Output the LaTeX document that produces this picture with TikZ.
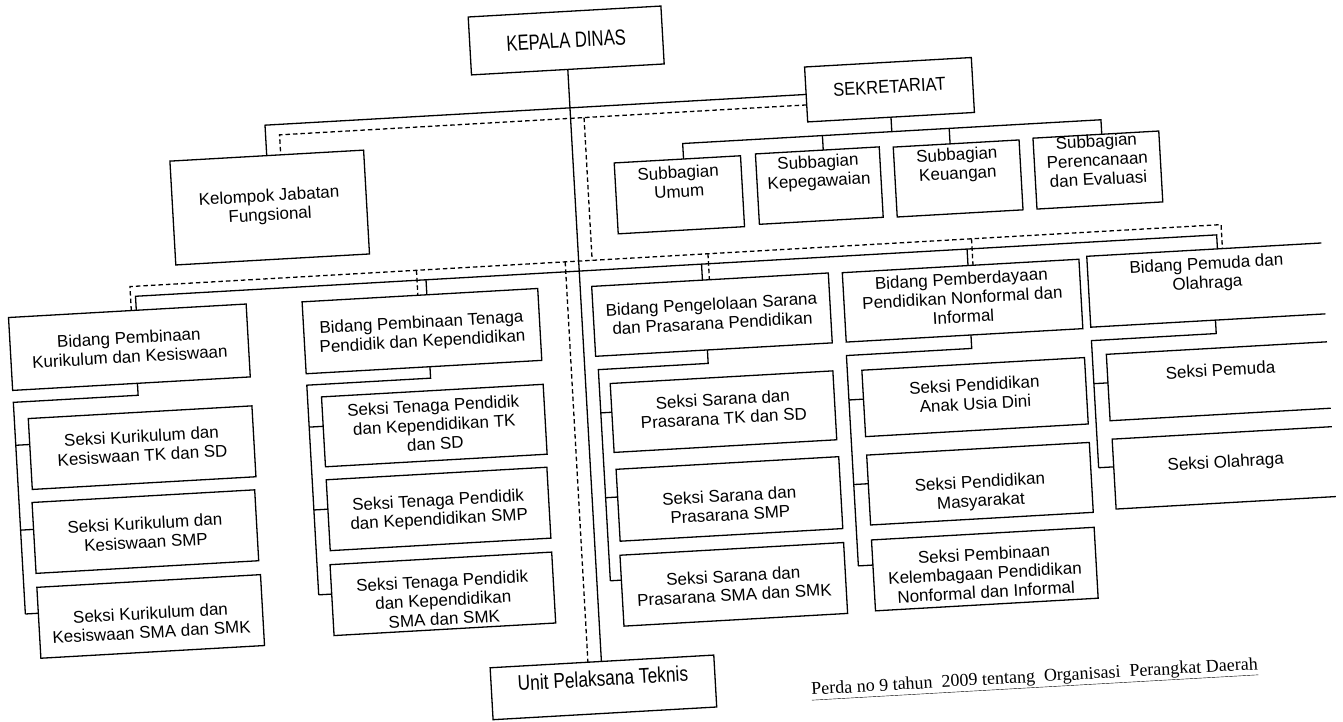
\documentclass[tikz,border=0pt]{standalone}
\usepackage{graphicx}
\usepackage{fontspec}
\setmainfont{Liberation Sans}
\newfontfamily\perdafont{Liberation Serif}
\tikzset{
  orgbox/.style={draw, rectangle, inner sep=0pt, outer sep=0pt, line width=1.3pt},
  orgtext/.style={inner sep=0pt, align=center, font=\fontsize{17}{19}\selectfont},
  conn/.style={line width=1.3pt},
  coordline/.style={line width=1.3pt, dash pattern=on 4.5pt off 3pt},
}
\newcommand\orgbx[7]{%
  \node[orgbox, minimum width={(#4)-(#2)}, minimum height={(#5)-(#3)}] (#1) at ({((#2)+(#4))/2},{((#3)+(#5))/2}) {};
  \node[orgtext] (#1-t) at ({((#2)+(#4))/2},{((#3)+(#5))/2+(#6)}) {#7};}
\begin{document}
\begin{tikzpicture}[x=1pt,y=-1pt]
\useasboundingbox (0,0) rectangle (1343,721);
\fill[white] (0,0) rectangle (1343,721);
\begin{scope}[rotate around={3.25:(671.5,360.5)}, transform shape]
\clip (-300,-300) rectangle (1327,1000);

% ---------- top level ----------
\node[orgbox, minimum width=193, minimum height=58] (kepala) at (584.5,35) {};
\node[orgtext, font=\fontsize{22}{24}\selectfont] (kepala-t) at (584.5,35) {\scalebox{0.76}[1]{KEPALA DINAS}};

\node[orgbox, minimum width=167, minimum height=55] (sek) at (904.5,102.5) {};
\node[orgtext, font=\fontsize{18.6}{20}\selectfont] (sek-t) at (904.5,99.5) {\scalebox{0.89}[1]{SEKRETARIAT}};

\orgbx{kel}{182}{133}{376}{237}{-1}{Kelompok Jabatan\\Fungsional}
\orgbx{umum}{625.5}{160}{752}{231}{-13}{Subbagian\\Umum}
\orgbx{kepeg}{767}{159}{891}{229.5}{-13}{Subbagian\\Kepegawaian}
\orgbx{keu}{905}{160}{1031}{230}{-13}{Subbagian\\Keuangan}
\orgbx{peren}{1045}{159}{1171}{230}{-10}{Subbagian\\Perencanaan\\dan Evaluasi}

% ---------- bidang ----------
\orgbx{bid1}{12}{280}{250}{353}{0}{Bidang Pembinaan\\Kurikulum dan Kesiswaan}
\orgbx{bid2}{306}{281}{542}{353}{2}{Bidang Pembinaan Tenaga\\Pendidik dan Kependidikan}
\orgbx{bid3}{596}{282}{833}{352}{-1}{Bidang Pengelolaan Sarana\\dan Prasarana Pendidikan}
\orgbx{bid4}{847}{282.5}{1084}{352}{-3}{Bidang Pemberdayaan\\Pendidikan Nonformal dan\\Informal}
\node[orgbox, minimum width=268, minimum height=71] (bid5) at (1226,315.5) {};
\node[orgtext] (bid5-t) at (1211,305) {Bidang Pemuda dan\\Olahraga};

% ---------- seksi ----------
\orgbx{s11}{26}{382}{250}{453}{-2}{Seksi Kurikulum dan\\Kesiswaan TK dan SD}
\orgbx{s12}{25}{466}{248}{537}{1}{Seksi Kurikulum dan\\Kesiswaan SMP}
\orgbx{s13}{25}{551}{249}{622}{6}{Seksi Kurikulum dan\\Kesiswaan SMA dan SMK}
\orgbx{s21}{320}{377}{542}{447}{-1}{Seksi Tenaga Pendidik\\dan Kependidikan TK\\dan SD}
\orgbx{s22}{320}{460}{541}{531}{2}{Seksi Tenaga Pendidik\\dan Kependidikan SMP}
\orgbx{s23}{319}{545}{541}{616}{6}{Seksi Tenaga Pendidik\\dan Kependidikan\\SMA dan SMK}
\orgbx{s31}{609}{380}{832}{449}{-3}{Seksi Sarana dan\\Prasarana TK dan SD}
\orgbx{s32}{610}{466}{833}{538}{6}{Seksi Sarana dan\\Prasarana SMP}
\orgbx{s33}{609}{552}{833}{623}{1}{Seksi Sarana dan\\Prasarana SMA dan SMK}
\orgbx{s41}{861}{381}{1084}{447.5}{-3}{Seksi Pendidikan\\Anak Usia Dini}
\orgbx{s42}{861}{466}{1084}{536}{9}{Seksi Pendidikan\\Masyarakat}
\orgbx{s43}{861}{551}{1084}{622}{4}{Seksi Pembinaan\\Kelembagaan Pendidikan\\Nonformal dan Informal}
\node[orgbox, minimum width=268, minimum height=66.5] (s51) at (1240,412.25) {};
\node[orgtext] (s51-t) at (1219,401) {Seksi Pemuda};
\node[orgbox, minimum width=268, minimum height=70] (s52) at (1241,499) {};
\node[orgtext] (s52-t) at (1219,494.5) {Seksi Olahraga};

% ---------- unit & note ----------
\node[orgbox, minimum width=224, minimum height=52] (unit) at (585,683) {};
\node[orgtext, font=\fontsize{21.4}{23}\selectfont] (unit-t) at (585,674) {\scalebox{0.81}[1]{Unit Pelaksana Teknis}};
\node[inner sep=0pt, font=\perdafont\fontsize{18}{20}\selectfont] (perda) at (1016,699) {\underline{Perda no 9 tahun\ \ 2009 tentang\ \ Organisasi\ \ Perangkat Daerah}};

% ---------- solid command lines ----------
\draw[conn] (kepala.south) -- (kepala.south |- unit.north);
\draw[conn] (sek.west) -| (kel.north);
\coordinate (sb) at (904.5,144.5);
\coordinate (sbl) at (695,144.5);
\coordinate (sbk) at (835,144.5);
\coordinate (sbu) at (962,144.5);
\coordinate (sbr) at (1114,144.5);
\draw[conn] (sek.south) -- (sb);
\draw[conn] (sbl |- umum.north) -- (sbl) -- (sbr) -- (sbr |- peren.north);
\draw[conn] (sbk) -- (sbk |- kepeg.north);
\draw[conn] (sbu) -- (sbu |- keu.north);

\coordinate (bl) at (140,266);
\coordinate (br) at (1223,266);
\coordinate (b2) at (431,266);
\coordinate (b3) at (707,266);
\coordinate (b4) at (973,266);
\draw[conn] (bl |- bid1.north) -- (bl) -- (br) -- (br |- bid5.north);
\draw[conn] (b2) -- (b2 |- bid2.north);
\draw[conn] (b3) -- (b3 |- bid3.north);
\draw[conn] (b4) -- (b4 |- bid4.north);

% column 1
\coordinate (c1a) at (137,365);
\coordinate (c1b) at (12,365);
\coordinate (p11) at (12,408);
\coordinate (p12) at (12,493);
\coordinate (p13) at (12,577);
\draw[conn] (c1a |- bid1.south) -- (c1a) -- (c1b) -- (p13);
\draw[conn] (p11) -- (p11 -| s11.west);
\draw[conn] (p12) -- (p12 -| s12.west);
\draw[conn] (p13) -- (p13 -| s13.west);
% column 2
\coordinate (c2a) at (430,364.5);
\coordinate (c2b) at (306,364.5);
\coordinate (p21) at (306,406.5);
\coordinate (p22) at (306,489.5);
\coordinate (p23) at (306,574.5);
\draw[conn] (c2a |- bid2.south) -- (c2a) -- (c2b) -- (p23);
\draw[conn] (p21) -- (p21 -| s21.west);
\draw[conn] (p22) -- (p22 -| s22.west);
\draw[conn] (p23) -- (p23 -| s23.west);
% column 3
\coordinate (c3a) at (708,365.5);
\coordinate (c3b) at (598,365.5);
\coordinate (p31) at (598,408.8);
\coordinate (p32) at (598,493.8);
\coordinate (p33) at (598,577);
\draw[conn] (c3a |- bid3.south) -- (c3a) -- (c3b) -- (p33);
\draw[conn] (p31) -- (p31 -| s31.west);
\draw[conn] (p32) -- (p32 -| s32.west);
\draw[conn] (p33) -- (p33 -| s33.west);
% column 4
\coordinate (c4a) at (972,365.5);
\coordinate (c4b) at (846.5,365.5);
\coordinate (p41) at (846.5,410);
\coordinate (p42) at (846.5,494.7);
\coordinate (p43) at (846.5,576.2);
\draw[conn] (c4a |- bid4.south) -- (c4a) -- (c4b) -- (p43);
\draw[conn] (p41) -- (p41 -| s41.west);
\draw[conn] (p42) -- (p42 -| s42.west);
\draw[conn] (p43) -- (p43 -| s43.west);
% column 5
\coordinate (c5a) at (1217,364.5);
\coordinate (c5b) at (1092,364.5);
\coordinate (p51) at (1092,407.6);
\coordinate (p52) at (1092,491.8);
\draw[conn] (c5a |- bid5.south) -- (c5a) -- (c5b) -- (p52);
\draw[conn] (p51) -- (p51 -| s51.west);
\draw[conn] (p52) -- (p52 -| s52.west);

% ---------- dashed coordination lines ----------
\coordinate (k1) at (293,113);
\coordinate (k2) at (598,113);
\coordinate (k3) at (598,256);
\draw[coordline] (sek.west |- k1) -- (k1) -- (k1 |- kel.north);
\draw[coordline] (k2) -- (k3);
\coordinate (dl) at (135,256);
\coordinate (dr) at (1228,256);
\coordinate (d2) at (422,256);
\coordinate (d3) at (714,256);
\coordinate (d4) at (978,256);
\coordinate (du) at (571,256);
\draw[coordline] (dl |- bid1.north) -- (dl) -- (dr) -- (dr |- bid5.north);
\draw[coordline] (d2) -- (d2 |- bid2.north);
\draw[coordline] (d3) -- (d3 |- bid3.north);
\draw[coordline] (d4) -- (d4 |- bid4.north);
\draw[coordline] (du) -- (du |- unit.north);
\end{scope}
\end{tikzpicture}
\end{document}
